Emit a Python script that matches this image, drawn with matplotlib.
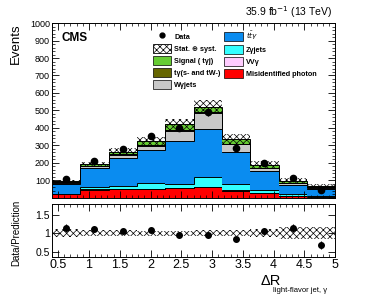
import matplotlib
matplotlib.use('Agg')
import matplotlib.pyplot as plt
from matplotlib.patches import Patch
from matplotlib.lines import Line2D
from matplotlib.ticker import MultipleLocator, FuncFormatter
import numpy as np

plt.rcParams['font.family'] = ['Liberation Sans', 'DejaVu Sans']
plt.rcParams['hatch.linewidth'] = 0.5

# binning in Delta R(light jet, photon)
edges = np.linspace(0.4, 5.0, 11)

# stacked contributions, bottom to top
misid = [20, 48, 52, 50, 58, 63, 42, 26, 11, 2]
vvg = [1, 1, 1, 1, 1, 1, 1, 1, 1, 1]
zgam = [1, 12, 14, 33, 21, 54, 35, 19, 9, 10]
ttg = [57, 111, 159, 190, 245, 274, 187, 110, 53, 37]
wgam = [9, 9, 19, 25, 58, 91, 41, 14, 10, 9]
tgam = [2, 3, 4, 4, 6, 7, 5, 4, 3, 2]
signal = [4, 8, 16, 22, 31, 31, 26, 16, 12, 7]

data = [107, 213, 277, 354, 401, 490, 283, 201, 113, 46]
rel_unc = [0.10, 0.08, 0.08, 0.07, 0.07, 0.08, 0.09, 0.10, 0.17, 0.17]

layers = [
    (misid, '#ff0000'),
    (vvg, '#ffccff'),
    (zgam, '#33ffff'),
    (ttg, '#0a8cf0'),
    (wgam, '#c8c8c8'),
    (tgam, '#666600'),
    (signal, '#66cc33'),
]

HATCH = 'xxxxx'

fig = plt.figure(figsize=(3.77, 2.99), dpi=100)
ax = fig.add_axes([0.138, 0.338, 0.751, 0.585])
rax = fig.add_axes([0.138, 0.1405, 0.751, 0.177])

bottom = np.zeros(10)
for vals, col in layers:
    top = bottom + np.array(vals, dtype=float)
    ax.stairs(top, edges, baseline=bottom, fill=True, color=col, lw=0)
    ax.stairs(top, edges, baseline=None, color='k', lw=0.7)
    bottom = top
total = bottom
unc = total * np.array(rel_unc)

# uncertainty band
ax.stairs(total + unc, edges, baseline=total - unc, fill=True,
          facecolor='none', edgecolor='k', hatch=HATCH, lw=0)

centers = 0.5 * (edges[1:] + edges[:-1])
data = np.array(data, dtype=float)
ax.errorbar(centers, data, yerr=np.sqrt(data), fmt='o', color='k',
            ms=4.5, elinewidth=0.8, capsize=0)

ax.set_xlim(0.4, 5.0)
ax.set_ylim(0, 1000)
ax.yaxis.set_major_locator(MultipleLocator(100))
ax.yaxis.set_minor_locator(MultipleLocator(20))
ax.xaxis.set_major_locator(MultipleLocator(0.5))
ax.xaxis.set_minor_locator(MultipleLocator(0.1))
ax.yaxis.set_major_formatter(FuncFormatter(lambda v, p: '' if v == 0 else '%d' % v))
ax.set_xticklabels([])
ax.tick_params(which='both', direction='in', top=True, right=True, labelsize=6.5, pad=1.5)
ax.tick_params(which='major', length=5, width=0.6)
ax.tick_params(which='minor', length=2.5, width=0.5)
for s in ax.spines.values():
    s.set_linewidth(0.7)

ax.text(0.035, 0.914, 'CMS', transform=ax.transAxes, fontsize=8.5,
        fontweight='bold', va='center', ha='left')

handles = [
    Line2D([], [], marker='o', color='k', ls='none', ms=3.5),
    Patch(facecolor='white', edgecolor='k', hatch=HATCH, lw=0.6),
    Patch(facecolor='#66cc33', edgecolor='k', lw=0.5),
    Patch(facecolor='#666600', edgecolor='k', lw=0.5),
    Patch(facecolor='#c8c8c8', edgecolor='k', lw=0.5),
    Patch(facecolor='#0a8cf0', edgecolor='k', lw=0.5),
    Patch(facecolor='#33ffff', edgecolor='k', lw=0.5),
    Patch(facecolor='#ffccff', edgecolor='k', lw=0.5),
    Patch(facecolor='#ff0000', edgecolor='k', lw=0.5),
]
labels = ['Data', 'Stat. \u2295 syst.', 'Signal ( t\u03b3j)', 't\u03b3(s- and tW-)',
          'W\u03b3jets', r'$t\bar{t}\gamma$', 'Z\u03b3jets', 'VV\u03b3',
          'Misidentified photon']
ax.legend(handles, labels, ncol=2, loc='upper left', bbox_to_anchor=(0.34, 0.99),
          frameon=False, prop={'weight': 'bold', 'size': 5.2},
          handlelength=2.6, handleheight=1.5, labelspacing=0.45,
          columnspacing=0.5, handletextpad=0.4, borderaxespad=0.2)

fig.text(0.883, 0.96, r'35.9 fb$^{-1}$ (13 TeV)', ha='right', va='center', fontsize=7.5)
fig.text(0.042, 0.923, 'Events', rotation=90, ha='center', va='top', fontsize=9.5)

# ratio panel
ratio = data / total
rerr = np.sqrt(data) / total
rax.stairs(1 + np.array(rel_unc), edges, baseline=1 - np.array(rel_unc), fill=True,
           facecolor='none', edgecolor='k', hatch=HATCH, lw=0)
rax.errorbar(centers, ratio, yerr=rerr, fmt='o', color='k', ms=4,
             elinewidth=0.8, capsize=0)
rax.set_xlim(0.4, 5.0)
rax.set_ylim(0.36, 1.78)
rax.set_yticks([0.5, 1, 1.5])
rax.yaxis.set_major_formatter(FuncFormatter(lambda v, p: '%g' % v))
rax.xaxis.set_major_locator(MultipleLocator(0.5))
rax.xaxis.set_minor_locator(MultipleLocator(0.1))
rax.xaxis.set_major_formatter(FuncFormatter(lambda v, p: '%g' % v))
rax.tick_params(which='both', direction='in', top=True, right=True, pad=1.5)
rax.tick_params(axis='x', labelsize=9)
rax.tick_params(axis='y', labelsize=7.5)
rax.tick_params(which='major', length=5, width=0.6)
rax.tick_params(which='minor', length=2.5, width=0.5)
for s in rax.spines.values():
    s.set_linewidth(0.7)

fig.text(0.042, 0.22, 'Data/Prediction', rotation=90, ha='center', va='center', fontsize=7)
fig.text(0.69, 0.06, '\u0394R', ha='left', va='center', fontsize=10.5)
fig.text(0.723, 0.03, 'light-flavor jet, \u03b3', ha='left', va='center', fontsize=5.5)

fig.savefig('out.png', dpi=100)
